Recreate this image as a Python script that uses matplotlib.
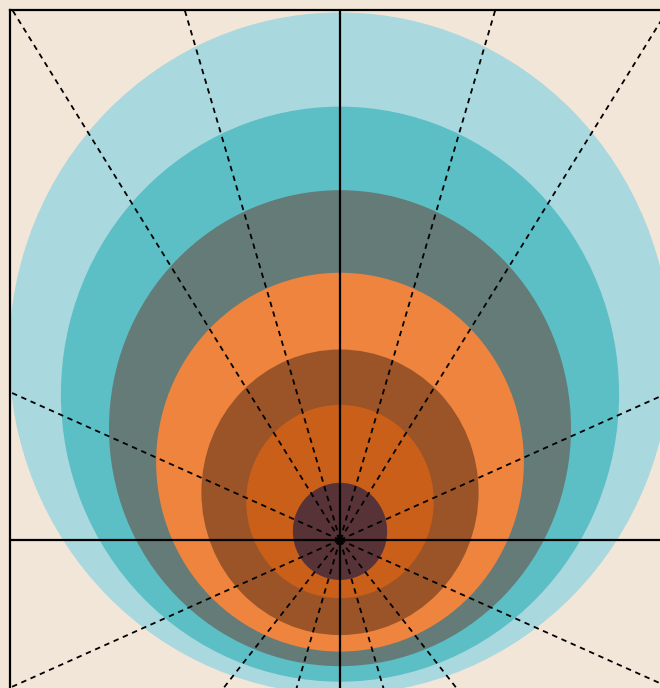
import numpy as np
import matplotlib
matplotlib.use("Agg")
import matplotlib.pyplot as plt
from matplotlib.patches import Circle

# ---- data ----
circle_y = [3.84, 3.00, 2.30, 1.60, 0.98, 0.79, 0.175]
circle_r = [7.02, 5.92, 4.90, 3.90, 2.94, 1.99, 1.00]
circle_colors = ["#a9d8de", "#5bbfc5", "#657b77", "#ef843f", "#9b5428", "#c95f19", "#573237"]
ray_angles = [23.5, 57.5, 73.2, 106.8, 122.5, 156.5, 203.5, 231.0, 253.2, 286.8, 309.0, 336.5]
xlim = (-7, 7)
ylim = (-3.05, 10.91)

bg = "#f2e6d8"
fig = plt.figure(figsize=(6.6, 6.88), dpi=100, facecolor=bg)
ax = fig.add_axes([10 / 660, 0.0, 660 / 660, 678 / 688])
ax.set_facecolor(bg)

for y, r, c in zip(circle_y, circle_r, circle_colors):
    ax.add_patch(Circle((0, y), r, facecolor=c, edgecolor="none", zorder=1))

L = 30
for a in ray_angles:
    t = np.deg2rad(a)
    ax.plot([0, L * np.cos(t)], [0, L * np.sin(t)], color="black", lw=1.3,
            linestyle=(0, (3, 2.6)), zorder=2)

ax.axhline(0, color="black", lw=1.6, zorder=3)
ax.axvline(0, color="black", lw=1.6, zorder=3)

ax.set_xlim(*xlim)
ax.set_ylim(*ylim)
ax.set_xticks([])
ax.set_yticks([])
for name, s in ax.spines.items():
    s.set_linewidth(1.6)
    s.set_color("black")
ax.spines["bottom"].set_visible(False)
ax.spines["right"].set_visible(False)

fig.savefig("out.png", dpi=100, facecolor=bg)
